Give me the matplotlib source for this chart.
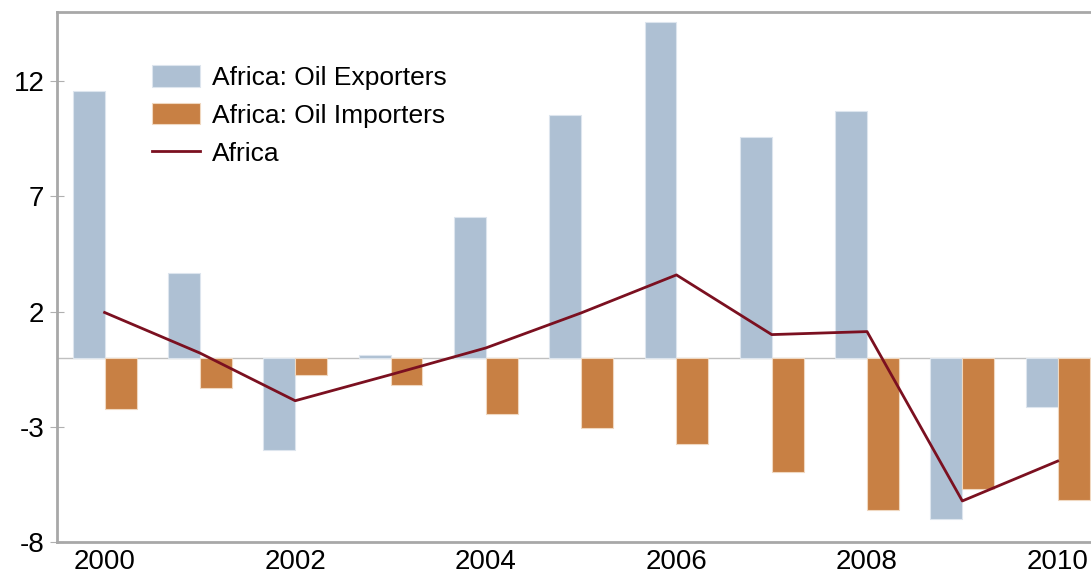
import matplotlib
matplotlib.use("Agg")
import matplotlib.pyplot as plt
import numpy as np

years = [2000, 2001, 2002, 2003, 2004, 2005, 2006, 2007, 2008, 2009, 2010]
exporters = [11.57, 3.69, -4.03, 0.11, 6.10, 10.52, 14.55, 9.58, 10.69, -6.99, -2.14]
importers = [-2.23, -1.32, -0.75, -1.19, -2.43, -3.05, -3.74, -4.95, -6.60, -5.72, -6.16]
africa = [1.96, 0.20, -1.87, -0.74, 0.42, 1.94, 3.59, 1.00, 1.13, -6.22, -4.49]
yticks = [-8, -3, 2, 7, 12]
xticks = [2000, 2002, 2004, 2006, 2008, 2010]

plt.rcParams['font.family'] = ['Liberation Sans', 'DejaVu Sans']

fig = plt.figure(figsize=(10.91, 5.77), dpi=100)
ax = fig.add_axes([0.0522, 0.0607, 0.9478, 0.9185])

x = np.array(years)
w = 0.335
b1 = ax.bar(x - w / 2, exporters, width=w, color='#aec0d3', edgecolor='#dde5ee',
            linewidth=0.8, label='Africa: Oil Exporters', zorder=2)
b2 = ax.bar(x + w / 2, importers, width=w, color='#c88044', edgecolor='#f0d8c0',
            linewidth=0.8, label='Africa: Oil Importers', zorder=2)
ln, = ax.plot(x, africa, color='#7b1020', linewidth=2, label='Africa', zorder=3)
ax.axhline(0, color='#c0c0c0', linewidth=1, zorder=1)

ax.set_xlim(1999.5, 2010.35)
ax.set_ylim(-8, 15)
ax.set_yticks(yticks)
ax.set_yticklabels([str(v) for v in yticks])
ax.set_xticks(xticks)
ax.set_xticklabels([str(v) for v in xticks])

for s in ['left', 'top', 'bottom']:
    ax.spines[s].set_color('#a8a8a8')
    ax.spines[s].set_linewidth(2)
ax.spines['right'].set_visible(False)

ax.tick_params(axis='y', direction='inout', length=10, width=0.8, color='#b0b0b0',
               labelsize=20, pad=4)
ax.tick_params(axis='x', length=0, labelsize=20, pad=5)

ax.legend([b1, b2, ln], ['Africa: Oil Exporters', 'Africa: Oil Importers', 'Africa'],
          loc='upper left', bbox_to_anchor=(0.0795, 0.924), frameon=False,
          fontsize=19, handlelength=1.82, handleheight=0.85, handletextpad=0.45,
          labelspacing=0.5, borderpad=0)

fig.savefig('out.png', dpi=100)
